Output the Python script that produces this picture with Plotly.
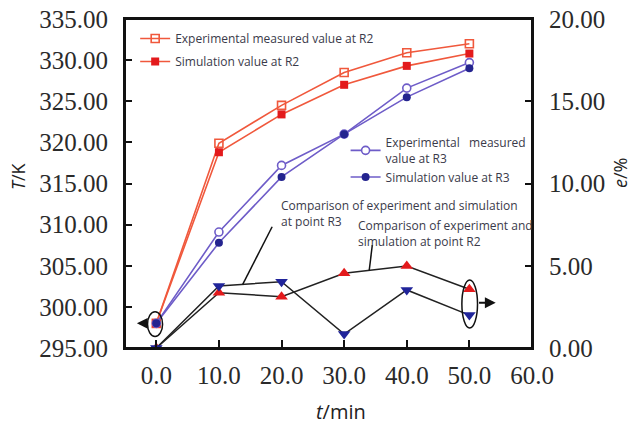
import plotly.graph_objects as go

# ---- data ----
t_min = [0, 10, 20, 30, 40, 50]
r2_exp = [298.0, 319.9, 324.5, 328.5, 330.9, 332.0]
r2_sim = [298.0, 318.8, 323.4, 327.0, 329.3, 330.8]
r3_exp = [298.0, 309.1, 317.2, 321.0, 326.6, 329.7]
r3_sim = [298.0, 307.8, 315.8, 321.0, 325.5, 329.0]
err_r2 = [0.0, 3.36, 3.12, 4.54, 4.98, 3.57]
err_r3 = [0.0, 3.77, 4.03, 0.85, 3.53, 2.00]

left_ticks = [295, 300, 305, 310, 315, 320, 325, 330, 335]
right_ticks = [0, 5, 10, 15, 20]
x_ticks = [0, 10, 20, 30, 40, 50, 60]

ORANGE = "#F0583C"
RED = "#E31A1C"
PURPLE = "#6E5CC8"
NAVY = "#24248F"
BLUE_TRI = "#20249A"
TXT = "#3a3a4a"

W, H = 633, 424
L, R, T, B = 125, 532, 19, 348       # plot area in pixels


def px_x(p):
    return (p - L) / (R - L)


def px_y(p):
    return (B - p) / (B - T)


fig = go.Figure()

# error (right axis)
fig.add_trace(go.Scatter(x=t_min, y=err_r2, yaxis="y2", mode="lines+markers",
                         line=dict(color="#222", width=1.5),
                         marker=dict(symbol="triangle-up", size=11, color=RED),
                         showlegend=False))
fig.add_trace(go.Scatter(x=t_min, y=err_r3, yaxis="y2", mode="lines+markers",
                         line=dict(color="#222", width=1.5),
                         marker=dict(symbol="triangle-down", size=11, color=BLUE_TRI),
                         showlegend=False))

# R2
fig.add_trace(go.Scatter(x=t_min, y=r2_exp, mode="lines+markers", name="Experimental measured value at R2",
                         line=dict(color=ORANGE, width=1.6),
                         marker=dict(symbol="square-open", size=8, color=ORANGE, line=dict(width=1.6)),
                         legend="legend", legendgroup="a"))
fig.add_trace(go.Scatter(x=t_min, y=r2_sim, mode="lines+markers", name="Simulation value at R2",
                         line=dict(color=ORANGE, width=1.6),
                         marker=dict(symbol="square", size=8, color=RED),
                         legend="legend", legendgroup="b"))
# R3
fig.add_trace(go.Scatter(x=t_min, y=r3_exp, mode="lines+markers",
                         name="Experimental   measured<br>value at R3",
                         line=dict(color=PURPLE, width=1.6),
                         marker=dict(symbol="circle", size=8, color="white", line=dict(color=PURPLE, width=1.6)),
                         legend="legend2", legendgroup="c"))
fig.add_trace(go.Scatter(x=t_min, y=r3_sim, mode="lines+markers", name="Simulation value at R3",
                         line=dict(color=PURPLE, width=1.6),
                         marker=dict(symbol="circle", size=8, color=NAVY),
                         legend="legend2", legendgroup="d"))

tick_font = dict(family="Liberation Serif", size=25, color="#2a2a2a")
ann_font = dict(family="Open Sans", size=12, color=TXT)

axis_common = dict(ticks="inside", tickwidth=1.5, tickcolor="#111", showgrid=False,
                   zeroline=False, tickfont=tick_font, automargin=False,
                   ticklabeloverflow="allow")

fig.update_layout(
    width=W, height=H,
    margin=dict(l=L, r=W - R, t=T, b=H - B, pad=0),
    plot_bgcolor="rgba(0,0,0,0)", paper_bgcolor="white",
    xaxis=dict(range=[-5, 60], tickvals=x_ticks, tickformat=".1f", ticklen=8, ticklabelstandoff=4,
               showline=True, linecolor="#111", linewidth=2, mirror=True, **axis_common),
    yaxis=dict(range=[295, 335], tickvals=left_ticks, tickformat=".2f", ticklen=7, ticklabelstandoff=10,
               showline=True, linecolor="#111", linewidth=2, mirror=True, **axis_common),
    yaxis2=dict(range=[0, 20], tickvals=right_ticks, tickformat=".2f", overlaying="y", side="right",
                ticklen=7, ticklabelstandoff=16, showline=False, **axis_common),
    legend=dict(x=0.025, y=0.985, xanchor="left", yanchor="top", bgcolor="rgba(0,0,0,0)",
                font=ann_font, tracegroupgap=4, itemwidth=30),
    legend2=dict(x=0.542, y=0.668, xanchor="left", yanchor="top", bgcolor="rgba(0,0,0,0)",
                 font=ann_font, tracegroupgap=0, itemwidth=30),
    showlegend=True,
)

# frame
fig.add_shape(type="rect", xref="paper", yref="paper", x0=0, x1=1, y0=0, y1=1,
              line=dict(color="#111", width=2), fillcolor="rgba(0,0,0,0)", layer="above")

# annotations text
fig.add_annotation(x=19.6, y=9.3, xref="x", yref="y2", xanchor="left", yanchor="top",
                   text="Comparison of experiment and simulation<br>at point R3", showarrow=False,
                   align="left", font=ann_font)
fig.add_annotation(x=31.9, y=8.1, xref="x", yref="y2", xanchor="left", yanchor="top",
                   text="Comparison of experiment and<br>simulation at point R2", showarrow=False,
                   align="left", font=ann_font)

# leader lines
fig.add_shape(type="line", xref="x", yref="y2", x0=18.5, y0=7.37, x1=13.8, y1=3.87,
              line=dict(color="#111", width=1.5))
fig.add_shape(type="line", xref="x", yref="y2", x0=34.5, y0=6.26, x1=34.0, y1=4.72,
              line=dict(color="#111", width=1.5))

# ellipses
fig.add_shape(type="circle", xref="x", yref="y", x0=-1.4, x1=1.0, y0=296.4, y1=299.4,
              line=dict(color="#111", width=1.5))
fig.add_shape(type="circle", xref="x", yref="y2", x0=48.8, x1=51.3, y0=1.22, y1=4.13,
              line=dict(color="#111", width=1.5))

# arrows
fig.add_annotation(x=-3.1, y=298.0, ax=-1.45, ay=298.0, xref="x", yref="y", axref="x", ayref="y",
                   text="", showarrow=True, arrowhead=2, arrowsize=1.2, arrowwidth=1.8, arrowcolor="#111")
fig.add_annotation(x=54.2, y=2.75, ax=51.3, ay=2.75, xref="x", yref="y2", axref="x", ayref="y2",
                   text="", showarrow=True, arrowhead=2, arrowsize=1.2, arrowwidth=1.8, arrowcolor="#111")

# axis titles
side_font = dict(family="Open Sans", size=18, color="#222")
title_font = dict(family="Open Sans", size=20, color="#222")
fig.add_annotation(x=px_x(18), y=px_y(176), xref="paper", yref="paper", text="<i>T</i>/K",
                   textangle=-90, showarrow=False, font=side_font, xanchor="center", yanchor="middle")
fig.add_annotation(x=px_x(620), y=px_y(173), xref="paper", yref="paper", text="<i>e</i>/%",
                   textangle=-90, showarrow=False, font=side_font, xanchor="center", yanchor="middle")
fig.add_annotation(x=px_x(341), y=px_y(411), xref="paper", yref="paper", text="<i>t</i>/min",
                   showarrow=False, font=title_font, xanchor="center", yanchor="middle")

fig.write_html("out.html", config={"displayModeBar": False},
               post_script="document.body.style.margin='0';")
